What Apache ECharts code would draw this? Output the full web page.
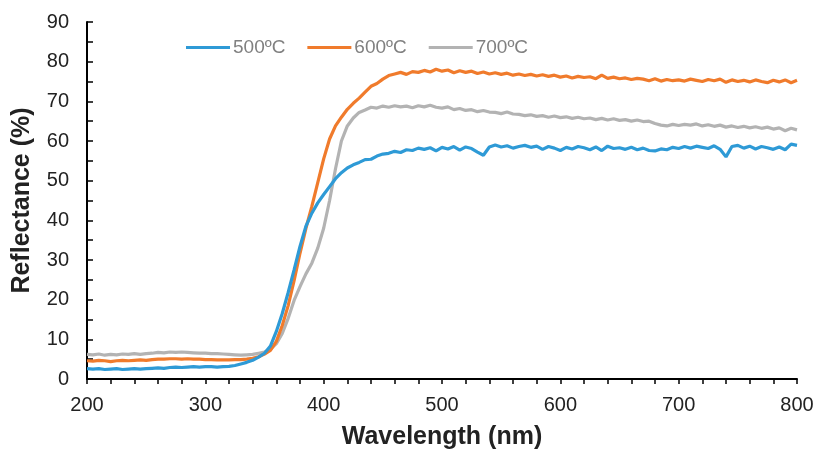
<!DOCTYPE html>
<html>
<head>
<meta charset="utf-8">
<script src="https://cdn.jsdelivr.net/npm/echarts@6/dist/echarts.min.js"></script>
<style>html,body{margin:0;padding:0;background:#fff}#c{width:814px;height:451px}</style>
</head>
<body>
<div id="c"></div>
<script>
// Wavelength sampling (nm), 200..800 every 5 nm
const wavelengths = Array.from({length: 121}, (_, i) => 200 + 5 * i);
const seriesNames = ['500ºC', '600ºC', '700ºC'];
const xTicks = [200, 300, 400, 500, 600, 700, 800];
const yTicks = [0, 10, 20, 30, 40, 50, 60, 70, 80, 90];

const r500 = [
2.6,2.5,2.6,2.4,2.5,2.6,2.4,2.5,2.6,2.5,
2.6,2.7,2.8,2.7,2.9,3.0,2.9,3.0,3.1,3.0,
3.1,3.1,3.0,3.1,3.2,3.4,3.8,4.2,4.7,5.5,
6.5,8.3,12.0,16.5,21.8,27.5,33.4,38.5,41.8,44.4,
46.5,48.5,50.5,52.0,53.2,54.0,54.6,55.3,55.4,56.2,
56.7,56.9,57.4,57.1,57.8,57.6,58.2,57.9,58.3,57.5,
58.4,58.0,58.6,57.7,58.5,58.1,57.2,56.4,58.5,59.0,
58.5,58.8,58.2,58.6,58.9,58.4,58.7,57.9,58.6,58.2,
57.6,58.4,58.0,58.6,58.3,57.8,58.5,57.6,58.7,58.1,
58.3,57.9,58.4,57.8,58.2,57.6,57.5,58.0,57.8,58.4,
58.1,58.6,58.2,58.7,58.4,58.1,58.8,57.9,56.0,58.6,
58.9,58.2,58.7,58.0,58.6,58.3,57.9,58.5,57.8,59.2,
58.9
];
const r600 = [
4.6,4.5,4.7,4.6,4.4,4.6,4.7,4.6,4.7,4.8,
4.7,4.9,5.0,5.0,5.1,5.1,5.0,5.1,5.0,5.0,
4.9,4.9,4.8,4.8,4.8,4.9,4.9,5.0,5.2,5.6,
6.3,7.2,9.5,13.5,18.5,24.8,31.7,38.0,43.5,49.5,
55.5,60.5,63.8,66.0,68.0,69.5,70.8,72.3,73.8,74.5,
75.6,76.5,76.9,77.3,76.8,77.5,77.3,77.8,77.4,78.1,
77.6,77.9,77.2,77.7,77.3,77.6,77.0,77.4,76.9,77.2,
76.8,77.1,76.6,76.9,76.5,76.8,76.4,76.7,76.3,76.6,
76.1,76.4,75.9,76.3,76.0,76.2,75.7,76.6,75.8,76.1,
75.7,75.9,75.5,75.8,75.6,75.2,75.7,75.1,75.5,75.2,
75.4,75.1,75.6,75.3,75.0,75.5,75.2,75.6,74.8,75.4,
75.0,75.3,74.9,75.4,75.0,74.7,75.3,74.9,75.4,74.7,
75.3
];
const r700 = [
6.2,6.1,6.3,6.0,6.2,6.1,6.3,6.2,6.4,6.2,
6.4,6.5,6.7,6.6,6.8,6.7,6.8,6.7,6.6,6.5,
6.5,6.4,6.4,6.3,6.2,6.1,6.0,6.1,6.2,6.5,
6.8,7.5,8.9,11.5,15.3,19.8,23.3,26.5,29.2,33.0,
38.0,45.0,53.0,60.0,63.8,65.8,67.2,67.8,68.5,68.3,
68.8,68.5,68.9,68.6,68.8,68.4,68.9,68.6,69.0,68.5,
68.3,68.6,67.9,68.2,67.7,67.9,67.4,67.7,67.3,67.2,
66.9,67.3,66.8,66.7,66.4,66.6,66.2,66.4,66.0,66.3,
65.9,66.1,65.7,66.0,65.6,65.8,65.4,65.7,65.3,65.6,
65.2,65.4,65.0,65.3,64.9,65.0,64.4,64.0,63.8,64.2,
63.9,64.2,64.0,64.3,63.8,64.1,63.7,64.0,63.5,63.8,
63.4,63.7,63.3,63.6,63.2,63.5,63.0,63.3,62.6,63.2,
62.8
];
const colors = ['#2E9AD6', '#F07B2C', '#B3B3B3'];
const allValues = [r500, r600, r700];

const chart = echarts.init(document.getElementById('c'), null, {renderer: 'canvas'});
const font = 'Liberation Sans, Arial, sans-serif';
chart.setOption({
  animation: false,
  color: colors,
  grid: {left: 87, right: 17, top: 22, bottom: 72, containLabel: false, outerBoundsMode: 'none'},
  legend: {
    data: seriesNames.map(n => ({name: n, icon: 'rect'})),
    left: 186, top: 38, padding: 0,
    itemWidth: 44, itemHeight: 3, itemGap: 22,
    selectedMode: false,
    textStyle: {color: '#808080', fontSize: 19, fontFamily: font, padding: [0,0,0,-2]}
  },
  xAxis: {
    type: 'value', min: xTicks[0], max: xTicks[xTicks.length - 1], interval: 100,
    name: 'Wavelength (nm)', nameLocation: 'middle', nameGap: 46,
    nameTextStyle: {fontSize: 25, fontWeight: 'bold', color: '#222', fontFamily: font},
    axisLine: {show: true, lineStyle: {color: '#000', width: 2}},
    axisTick: {show: true, length: 5, lineStyle: {color: '#000', width: 1.5}},
    minorTick: {show: true, splitNumber: 5, length: 5, lineStyle: {color: '#000', width: 1.5}},
    axisLabel: {fontSize: 20, color: '#222', margin: 16, fontFamily: font},
    splitLine: {show: false}
  },
  yAxis: {
    type: 'value', min: yTicks[0], max: yTicks[yTicks.length - 1], interval: 10,
    name: 'Reflectance (%)', nameLocation: 'middle', nameGap: 52,
    nameTextStyle: {fontSize: 25, fontWeight: 'bold', color: '#222', fontFamily: font},
    axisLine: {show: true, lineStyle: {color: '#000', width: 2}},
    axisTick: {show: true, inside: true, length: 6, lineStyle: {color: '#000', width: 1.5}},
    minorTick: {show: true, splitNumber: 2, length: 6, lineStyle: {color: '#000', width: 1.5}},
    axisLabel: {fontSize: 20, color: '#222', margin: 18, fontFamily: font},
    splitLine: {show: false}
  },
  series: seriesNames.map((n, k) => ({
    name: n, type: 'line', symbol: 'none', showSymbol: false,
    data: wavelengths.map((w, i) => [w, allValues[k][i]]),
    lineStyle: {width: 3.2, color: colors[k]},
    itemStyle: {color: colors[k]},
    z: 3 - k
  }))
});
</script>
</body>
</html>
